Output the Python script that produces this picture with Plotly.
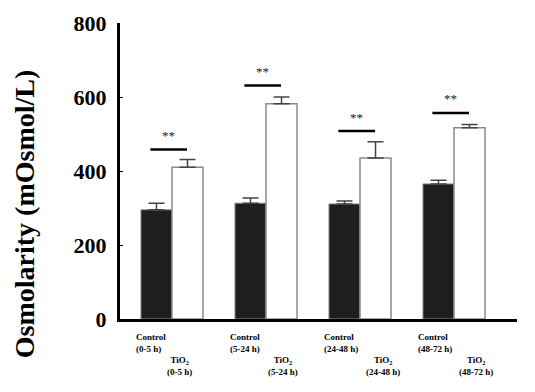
import plotly.graph_objects as go

# ---- data ----
periods = ["0-5 h", "5-24 h", "24-48 h", "48-72 h"]
control_mean = [295, 313, 311, 365]
control_err = [18, 14, 8, 10]
tio2_mean = [410, 582, 435, 517]
tio2_err = [21, 18, 44, 9]
sig_level = [458, 631, 508, 557]
sig_text = ["**", "**", "**", "**"]
y_ticks = [0, 200, 400, 600, 800]

# ---- layout helpers ----
group_pos = [1, 2, 3, 4]
bw = 0.33
tio2_label_dx = [0.085, 0.18, 0.245, 0.235]

FONT = "Liberation Serif"

fig = go.Figure()
fig.add_trace(go.Bar(
    x=[g - bw / 2 for g in group_pos], y=control_mean, width=bw,
    marker=dict(color="#1e1e1e", line=dict(color="#8a8a8a", width=1)),
    error_y=dict(type="data", symmetric=False, array=control_err,
                 arrayminus=[0] * len(control_err), color="#444", thickness=1.5, width=8),
    showlegend=False,
))
fig.add_trace(go.Bar(
    x=[g + bw / 2 for g in group_pos], y=tio2_mean, width=bw,
    marker=dict(color="white", line=dict(color="#8a8a8a", width=1.5)),
    error_y=dict(type="data", symmetric=False, array=tio2_err,
                 arrayminus=[0] * len(tio2_err), color="#444", thickness=1.5, width=8),
    showlegend=False,
))

annotations = []
shapes = []
for i, g in enumerate(group_pos):
    x0, x1 = g - 0.23, g + 0.16
    shapes.append(dict(type="line", xref="x", yref="y", x0=x0, x1=x1,
                       y0=sig_level[i], y1=sig_level[i],
                       line=dict(color="black", width=2.5)))
    annotations.append(dict(x=(x0 + x1) / 2, y=sig_level[i], xref="x", yref="y",
                            text=sig_text[i], showarrow=False, yshift=14,
                            font=dict(family=FONT, size=13, color="#222")))
    annotations.append(dict(x=g - 0.40, y=-0.08, xref="x", yref="paper",
                            xanchor="left", yanchor="middle", align="left",
                            text="<b>Control</b><br><b>(%s)</b>" % periods[i],
                            showarrow=False,
                            font=dict(family=FONT, size=9, color="black")))
    annotations.append(dict(x=g + tio2_label_dx[i], y=-0.158, xref="x", yref="paper",
                            xanchor="center", yanchor="middle", align="center",
                            text="<b>TiO<sub>2</sub></b><br><b>(%s)</b>" % periods[i],
                            showarrow=False,
                            font=dict(family=FONT, size=9, color="black")))

annotations.append(dict(x=-0.242, y=0.357, xref="paper", yref="paper",
                        text="<b>Osmolarity (mOsmol/L)</b>", textangle=-90,
                        showarrow=False, xanchor="center", yanchor="middle",
                        font=dict(family=FONT, size=28, color="black")))

fig.update_layout(
    width=535, height=392,
    margin=dict(l=112, r=26, t=15, b=81, autoexpand=False),
    paper_bgcolor="white", plot_bgcolor="white",
    barmode="overlay",
    shapes=shapes, annotations=annotations,
    xaxis=dict(range=[0.447, 4.67], showticklabels=False, ticks="",
               showgrid=False, zeroline=False, showline=True, automargin=False,
               linecolor="black", linewidth=3),
    yaxis=dict(range=[0, 800], tickvals=y_ticks, ticks="inside", ticklen=3,
               tickwidth=1, tickcolor="black", showgrid=False, automargin=False,
               zeroline=False, showline=True, linecolor="black", linewidth=3,
               tickfont=dict(family=FONT, size=22, color="black", weight="bold"),
               ticklabelstandoff=6),
)

fig.write_html("out.html")
